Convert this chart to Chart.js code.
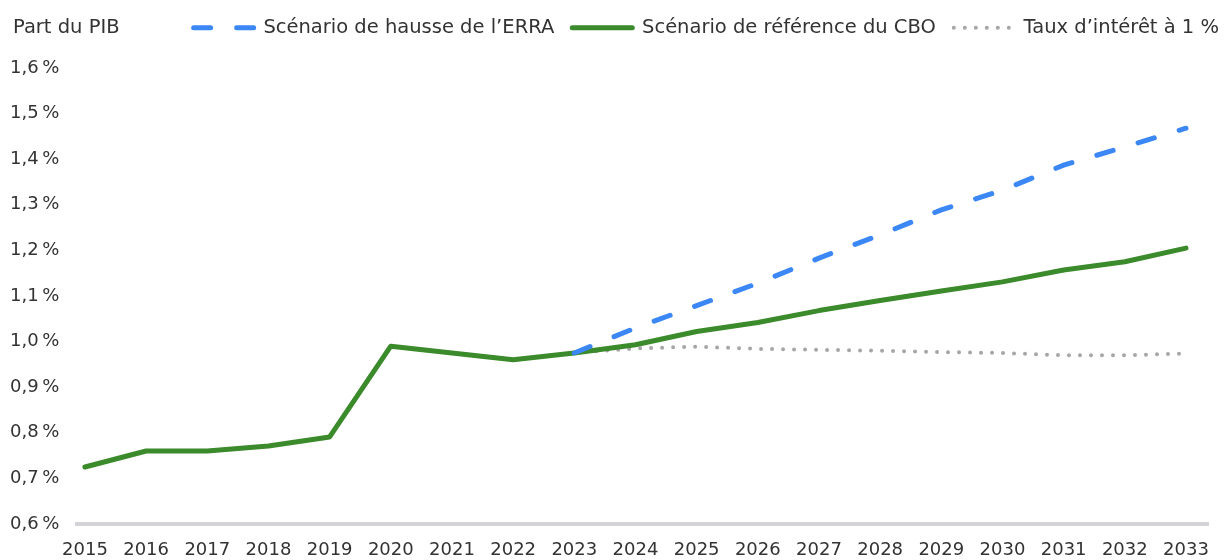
<!DOCTYPE html>
<html>
<head>
<meta charset="utf-8">
<script src="https://cdn.jsdelivr.net/npm/chart.js@4/dist/chart.umd.min.js"></script>
<style>
  html, body { margin: 0; padding: 0; background: #ffffff; }
  #wrap { width: 1225px; height: 560px; position: relative; }
</style>
</head>
<body>
<div id="wrap"><canvas id="c" width="1225" height="560"></canvas></div>
<script>
const years = [2015, 2016, 2017, 2018, 2019, 2020, 2021, 2022, 2023, 2024, 2025, 2026, 2027, 2028, 2029, 2030, 2031, 2032, 2033];
const cboBaseline = [0.725, 0.760, 0.760, 0.771, 0.791, 0.990, 0.975, 0.960, 0.975, 0.993, 1.022, 1.042, 1.068, 1.090, 1.111, 1.131, 1.157, 1.175, 1.205];
const erraYears = [2023, 2024, 2025, 2026, 2027, 2028, 2029, 2030, 2031, 2032, 2033];
const erraRise = [0.975, 1.030, 1.079, 1.128, 1.183, 1.234, 1.289, 1.332, 1.387, 1.427, 1.468];
const rate1Years = [2023, 2024, 2025, 2026, 2027, 2028, 2029, 2030, 2031, 2032, 2033];
const rate1Pct = [0.975, 0.985, 0.989, 0.984, 0.982, 0.980, 0.977, 0.975, 0.970, 0.970, 0.974];
const seriesLabels = ["Scénario de hausse de l’ERRA", "Scénario de référence du CBO", "Taux d’intérêt à 1 %"];
const yTitle = "Part du PIB";
const yMin = 0.6, yMax = 1.6, yStep = 0.1;

const FONT = "'DejaVu Sans', 'Open Sans', sans-serif";
const TXT = '#333333';
const LEG_SIZE = 19.5;

const toPts = (xs, ys) => xs.map((x, i) => ({ x: x, y: ys[i] }));

const yTitlePlugin = {
  id: 'yTitle',
  afterLayout(chart) {
    if (chart.legend) { chart.legend.right += 17; }
  },
  afterDraw(chart) {
    const ctx = chart.ctx;
    const lg = chart.legend;
    let y = 26;
    if (lg && lg.legendHitBoxes && lg.legendHitBoxes.length) {
      const hb = lg.legendHitBoxes[0];
      y = hb.top + hb.height / 2;
    }
    ctx.save();
    ctx.font = LEG_SIZE + 'px ' + FONT;
    ctx.fillStyle = TXT;
    ctx.textBaseline = 'middle';
    ctx.textAlign = 'left';
    ctx.fillText(yTitle, 13, y);
    ctx.restore();
  }
};

const chart = new Chart(document.getElementById('c'), {
  type: 'line',
  data: {
    datasets: [
      {
        label: seriesLabels[0],
        data: toPts(erraYears, erraRise),
        borderColor: '#3b87f5',
        backgroundColor: '#3b87f5',
        borderWidth: 5,
        borderDash: [17, 26],
        borderCapStyle: 'round',
        pointRadius: 0,
        pointStyle: 'line',
        tension: 0
      },
      {
        label: seriesLabels[1],
        data: toPts(years, cboBaseline),
        borderColor: '#3b8a2b',
        backgroundColor: '#3b8a2b',
        borderWidth: 5,
        borderCapStyle: 'round',
        borderJoinStyle: 'round',
        pointRadius: 0,
        pointStyle: 'line',
        tension: 0
      },
      {
        label: seriesLabels[2],
        data: toPts(rate1Years, rate1Pct),
        borderColor: '#a6a6a6',
        backgroundColor: '#a6a6a6',
        borderWidth: 4,
        borderDash: [0, 11],
        borderCapStyle: 'round',
        pointRadius: 0,
        pointStyle: 'line',
        tension: 0
      }
    ]
  },
  options: {
    responsive: false,
    animation: false,
    layout: { padding: { left: 10, right: 5, top: 0, bottom: 0 } },
    plugins: {
      legend: {
        position: 'top',
        align: 'end',
        labels: {
          usePointStyle: true,
          pointStyleWidth: 60,
          boxHeight: 18,
          padding: 18,
          color: TXT,
          font: { family: FONT, size: LEG_SIZE },
          generateLabels(ch) {
            const items = Chart.defaults.plugins.legend.labels.generateLabels(ch);
            items.forEach((it) => {
              const ds = ch.data.datasets[it.datasetIndex];
              it.lineDash = ds.borderDash || [];
              it.lineWidth = ds.borderWidth;
              it.lineCap = 'round';
              it.strokeStyle = ds.borderColor;
              it.fillStyle = ds.borderColor;
              it.pointStyle = 'line';
            });
            return items;
          }
        }
      },
      tooltip: { enabled: false }
    },
    scales: {
      x: {
        type: 'linear',
        min: 2014.87,
        max: 2033.37,
        afterFit: (s) => { s.height = 36; },
        grid: { display: false, drawTicks: false },
        border: { display: true, color: '#d3d3d8', width: 4 },
        ticks: {
          stepSize: 1,
          includeBounds: false,
          autoSkip: false,
          maxRotation: 0,
          padding: 16,
          color: TXT,
          font: { family: FONT, size: 18 },
          callback: (v) => Number.isInteger(v) ? String(v) : ''
        }
      },
      y: {
        min: yMin,
        max: yMax,
        afterFit: (s) => { s.width = 67; },
        grid: { display: false, drawTicks: false },
        border: { display: false },
        ticks: {
          stepSize: yStep,
          crossAlign: 'far',
          padding: 6,
          color: TXT,
          font: { family: FONT, size: 18 },
          callback: (v) => v.toFixed(1).replace('.', ',') + '\u202F%'
        }
      }
    }
  },
  plugins: [yTitlePlugin]
});
const legendFit = chart.legend.fit.bind(chart.legend);
chart.legend.fit = function () {
  legendFit();
  this.height = 68;
};
chart.update();
</script>
</body>
</html>
